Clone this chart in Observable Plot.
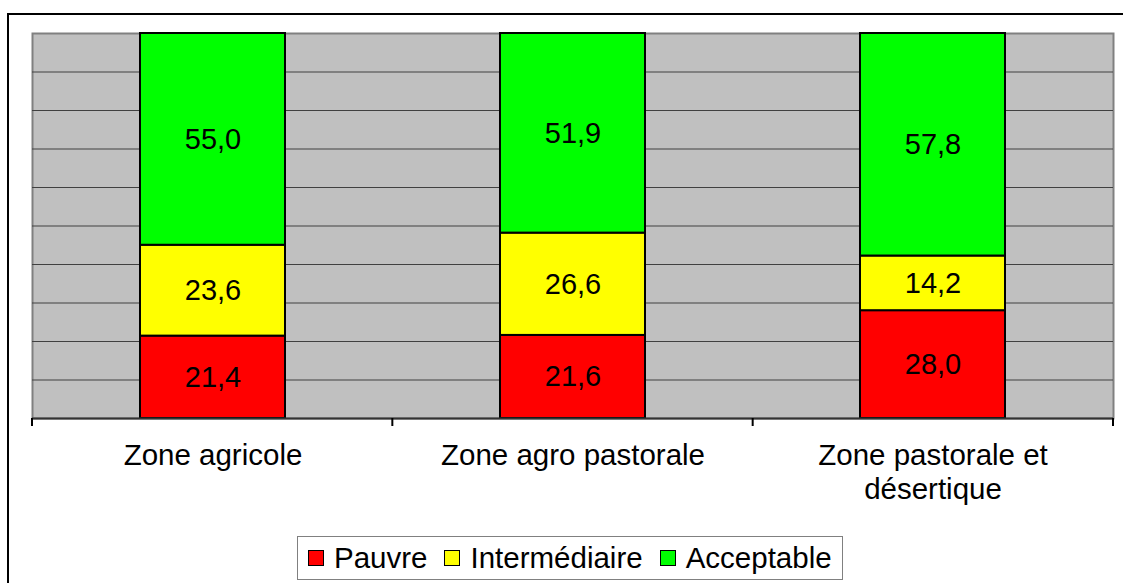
<!DOCTYPE html>
<html>
<head>
<meta charset="utf-8">
<script src="https://cdn.jsdelivr.net/npm/d3@7"></script>
<script src="https://cdn.jsdelivr.net/npm/@observablehq/plot@0.6"></script>
<style>
  html, body { margin: 0; padding: 0; background: #fff; overflow: hidden; width: 1123px; height: 583px; }
  #wrap { position: relative; width: 1123px; height: 583px; font-family: "Liberation Sans", Arial, sans-serif; }
  #outer { position: absolute; left: 7px; top: 13px; width: 1200px; height: 700px; border: 2px solid #000; box-sizing: border-box; }
  #chart { position: absolute; left: 0; top: 0; }
  #legend { position: absolute; left: 297px; top: 536px; width: 546px; height: 44px; box-sizing: border-box;
            border: 1px solid #808080; background: #fff; display: flex; align-items: center; padding-left: 10px; }
  .item { display: flex; align-items: center; margin-right: 17px; font-size: 29.5px; color: #000; }
  .sw { width: 14px; height: 14px; border: 1.5px solid #000; margin-right: 10px; }
</style>
</head>
<body>
<div id="wrap">
  <div id="outer"></div>
  <div id="chart"></div>
  <div id="legend"></div>
</div>
<script>
const zones = ["Zone agricole", "Zone agro pastorale", "Zone pastorale et désertique"];
const zoneLabels = ["Zone agricole", "Zone agro pastorale", "Zone pastorale et\ndésertique"];
const levels = ["Pauvre", "Intermédiaire", "Acceptable"];
const pauvre = [21.4, 21.6, 28.0];
const intermediaire = [23.6, 26.6, 14.2];
const acceptable = [55.0, 51.9, 57.8];
const levelColors = ["#ff0000", "#ffff00", "#00ff00"];
const gridTicks = [0.1, 0.2, 0.3, 0.4, 0.5, 0.6, 0.7, 0.8, 0.9];

const series = [pauvre, intermediaire, acceptable];
const data = [];
zones.forEach((z, i) => levels.forEach((l, j) => data.push({zone: z, level: l, value: series[j][i]})));

const fmt = v => v.toFixed(1).replace(".", ",");
const labelOf = Object.fromEntries(zones.map((z, i) => [z, zoneLabels[i]]));

const boundaryTicks = (index, scales, values, dimensions) => {
  const {width, height, marginLeft, marginRight, marginBottom} = dimensions;
  const n = zones.length;
  const step = (width - marginLeft - marginRight) / n;
  const y0 = height - marginBottom;
  const g = document.createElementNS("http://www.w3.org/2000/svg", "g");
  for (let i = 0; i <= n; i++) {
    const line = document.createElementNS("http://www.w3.org/2000/svg", "line");
    const x = marginLeft + i * step;
    line.setAttribute("x1", x); line.setAttribute("x2", x);
    line.setAttribute("y1", y0); line.setAttribute("y2", y0 + 8);
    line.setAttribute("stroke", "#000"); line.setAttribute("stroke-width", 2);
    g.appendChild(line);
  }
  return g;
};

const chart = Plot.plot({
  width: 1123,
  height: 530,
  marginTop: 33,
  marginLeft: 32,
  marginRight: 10,
  marginBottom: 112,
  style: {fontFamily: "'Liberation Sans', Arial, sans-serif", fontSize: "29.5px", color: "#000", background: "transparent"},
  x: {type: "band", domain: zones, paddingInner: 0.597, paddingOuter: 0.2985, align: 0.5, label: null},
  y: {domain: [0, 1], axis: null},
  color: {domain: levels, range: levelColors},
  marks: [
    Plot.frame({fill: "#c0c0c0", stroke: "#808080", strokeWidth: 2}),
    Plot.ruleY(gridTicks, {stroke: "#404040", strokeWidth: 1}),
    Plot.barY(data, Plot.stackY({x: "zone", y: "value", fill: "level", offset: "normalize", stroke: "#000", strokeWidth: 2})),
    Plot.text(data, Plot.stackY({x: "zone", y: "value", text: d => fmt(d.value), offset: "normalize", fontSize: 29, fill: "#000"})),
    Plot.ruleY([0], {stroke: "#333", strokeWidth: 2}),
    boundaryTicks,
    Plot.axisX({tickSize: 0, tickPadding: 22, fontSize: 29.5, lineHeight: 1.15, tickFormat: d => labelOf[d], fill: "#000"})
  ]
});
document.getElementById("chart").appendChild(chart);

const legend = document.getElementById("legend");
levels.forEach((l, i) => {
  const item = document.createElement("div");
  item.className = "item";
  const sw = document.createElement("div");
  sw.className = "sw";
  sw.style.background = levelColors[i];
  const t = document.createElement("span");
  t.textContent = l;
  item.appendChild(sw); item.appendChild(t);
  legend.appendChild(item);
});
</script>
</body>
</html>
